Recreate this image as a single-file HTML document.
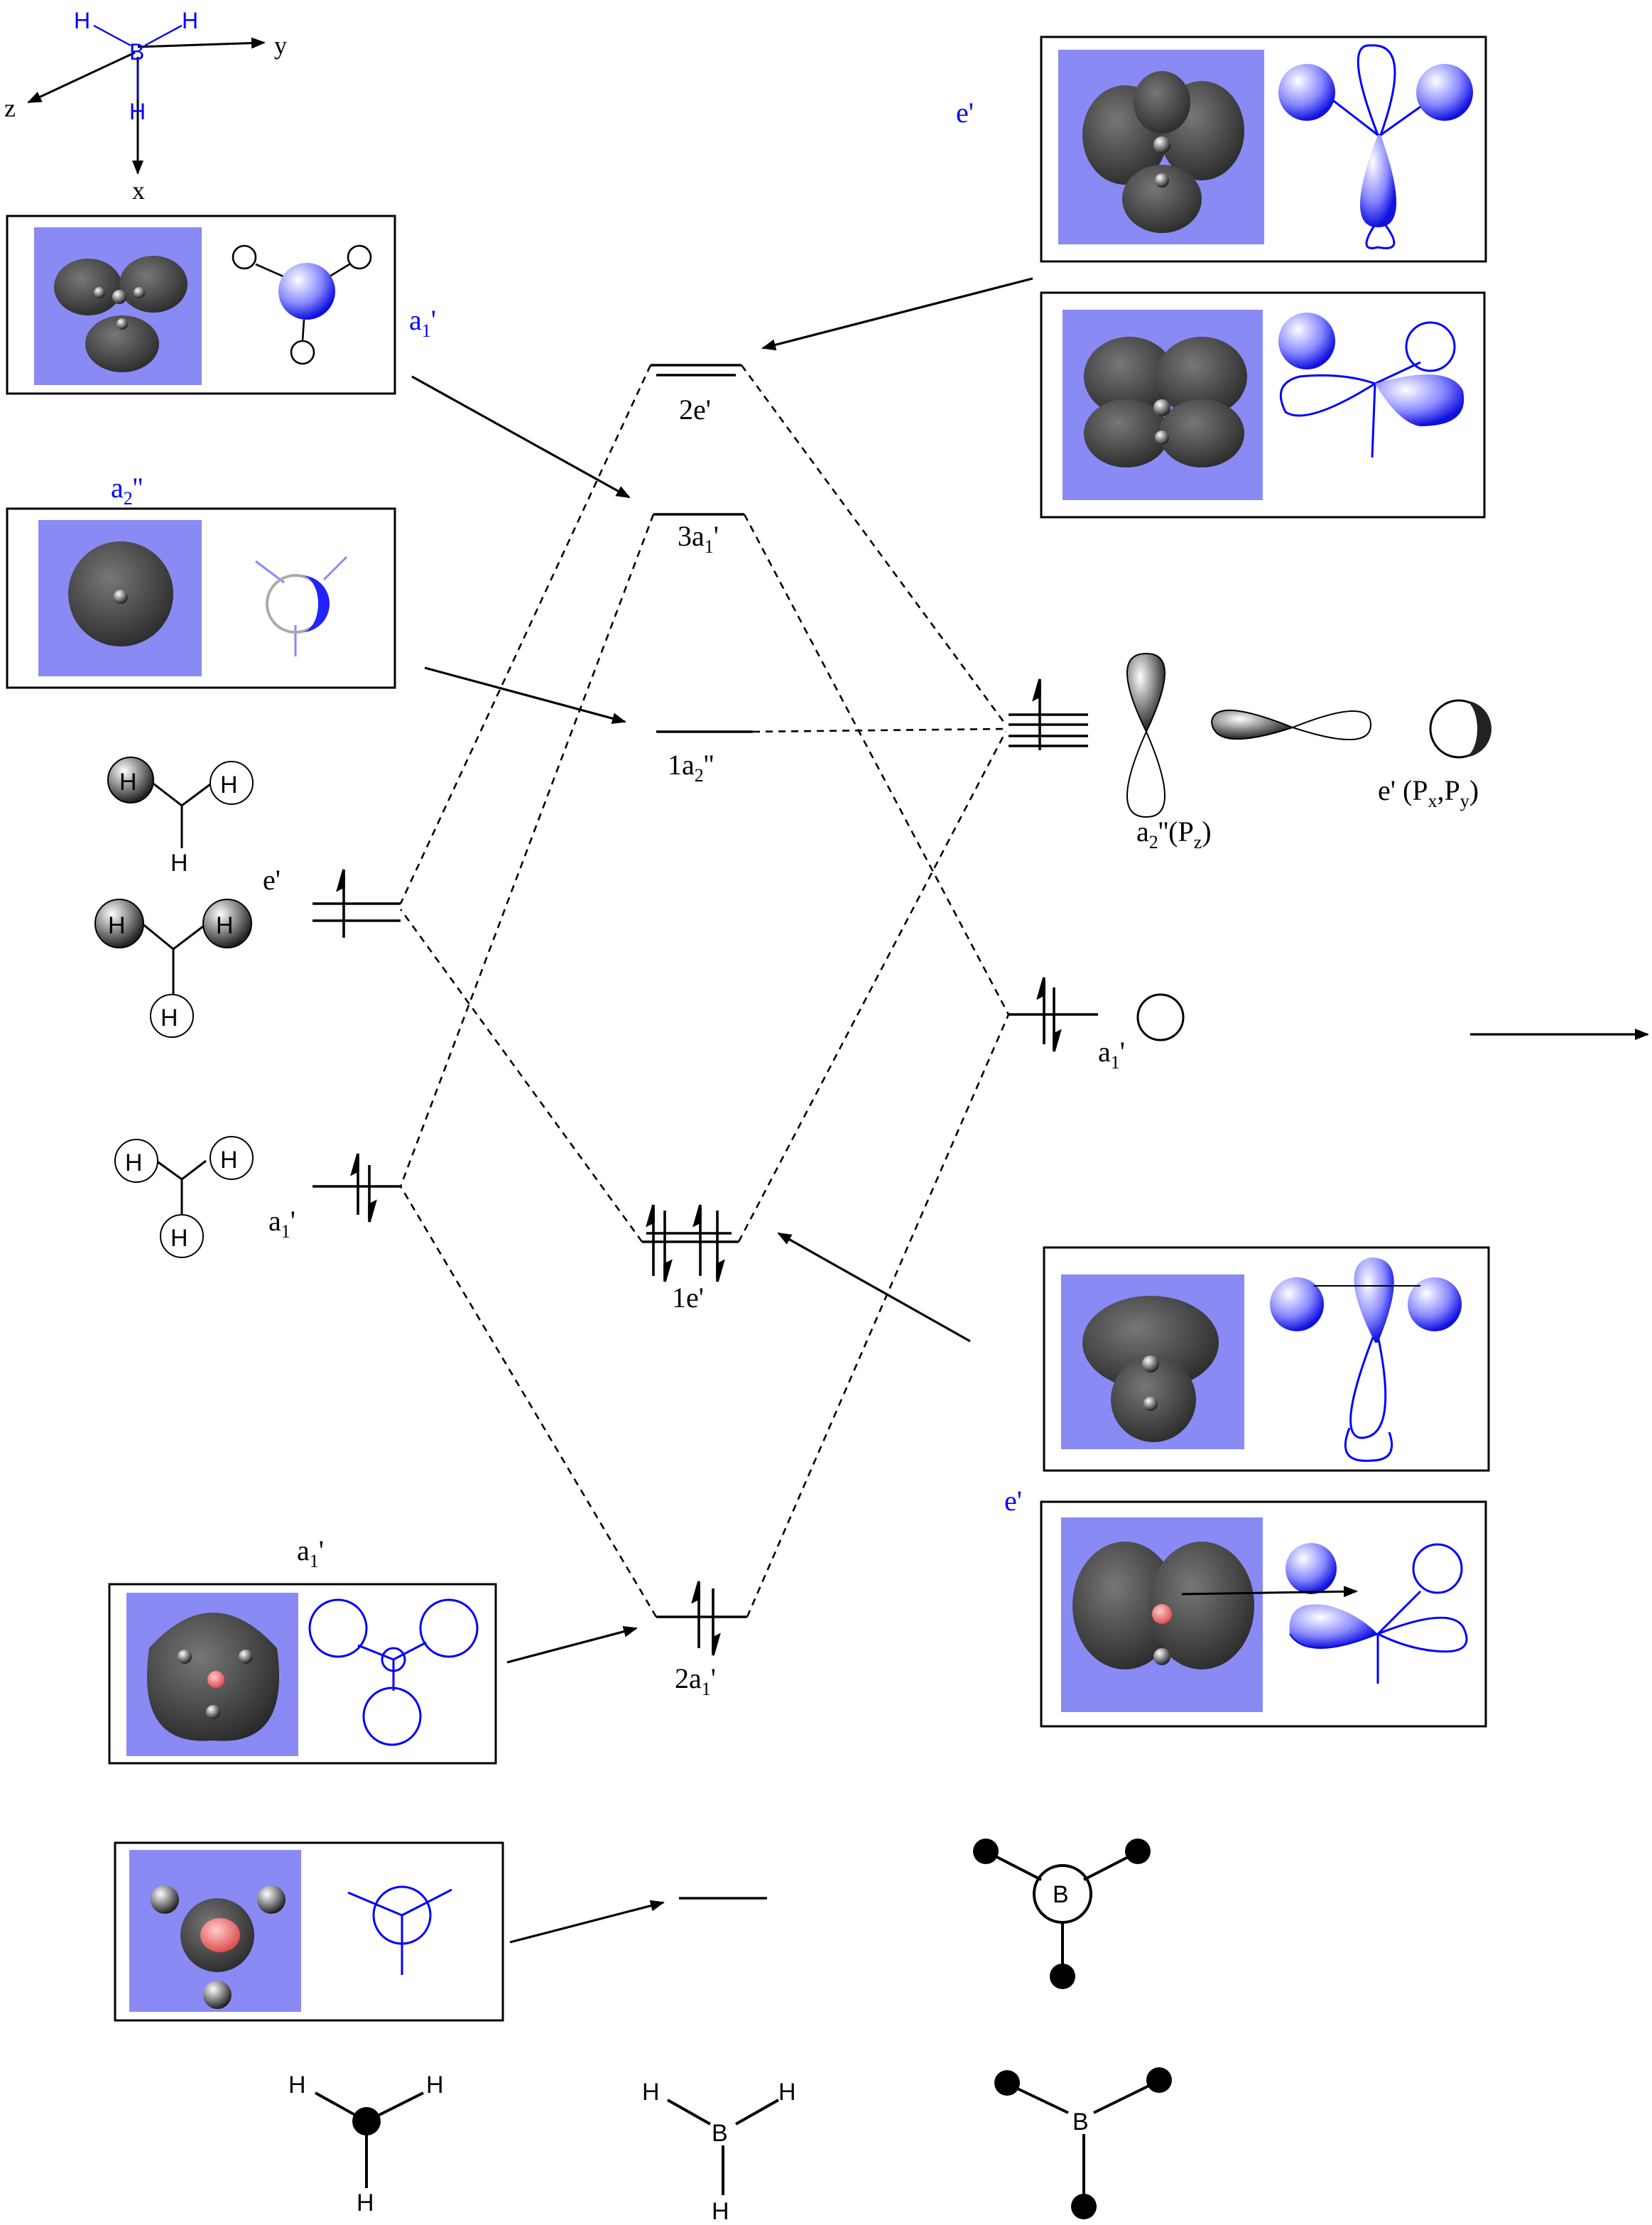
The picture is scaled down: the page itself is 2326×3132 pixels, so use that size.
<!DOCTYPE html>
<html><head><meta charset="utf-8"><style>html,body{margin:0;padding:0;background:#fff}svg{display:block}</style></head><body>
<svg xmlns="http://www.w3.org/2000/svg" width="2326" height="3132" viewBox="0 0 1163 1566" font-family="Liberation Serif, serif">
<defs>
<radialGradient id="bl" cx="0.35" cy="0.3" r="0.7"><stop offset="0" stop-color="#fff"/><stop offset="0.6" stop-color="#8888ff"/><stop offset="1" stop-color="#1010e0"/></radialGradient>
<radialGradient id="gr" cx="0.4" cy="0.35" r="0.7"><stop offset="0" stop-color="#777"/><stop offset="1" stop-color="#2a2a2a"/></radialGradient>
<radialGradient id="gw" cx="0.35" cy="0.3" r="0.7"><stop offset="0" stop-color="#fff"/><stop offset="1" stop-color="#222"/></radialGradient>
<radialGradient id="pk" cx="0.4" cy="0.35" r="0.7"><stop offset="0" stop-color="#fcc"/><stop offset="1" stop-color="#d44"/></radialGradient>
<marker id="ah" markerWidth="10" markerHeight="8" refX="9" refY="4" orient="auto" markerUnits="userSpaceOnUse"><path d="M0,0 L10,4 L0,8 z" fill="#000"/></marker>
</defs>
<g font-size="18">
<!-- axes -->
<g stroke="#000" stroke-width="1.5" fill="none">
<line x1="97" y1="33" x2="186" y2="30" marker-end="url(#ah)"/>
<line x1="95" y1="37" x2="20" y2="72" marker-end="url(#ah)"/>
<line x1="97" y1="40" x2="97" y2="122" marker-end="url(#ah)"/>
</g>
<g stroke="#00f" stroke-width="1.2"><line x1="66" y1="18" x2="92" y2="32"/><line x1="128" y1="18" x2="102" y2="32"/><line x1="97" y1="44" x2="97" y2="70"/></g>
<g fill="#00f" font-family="Liberation Sans, sans-serif" font-size="16"><text x="52" y="20">H</text><text x="128" y="20">H</text><text x="91" y="42">B</text><text x="91" y="84">H</text></g>
<text x="193" y="38">y</text><text x="3" y="82">z</text><text x="93" y="140">x</text>

<!-- boxes -->
<g fill="none" stroke="#000" stroke-width="1.5">
<rect x="5" y="152" width="273" height="125"/>
<rect x="5" y="358" width="273" height="126"/>
<rect x="733" y="26" width="313" height="158"/>
<rect x="733" y="206" width="312" height="158"/>
<rect x="735" y="878" width="313" height="157"/>
<rect x="733" y="1057" width="313" height="158"/>
<rect x="77" y="1115" width="272" height="126"/>
<rect x="81" y="1297" width="273" height="125"/>
</g>
<g fill="#8a8af5">
<rect x="24" y="160" width="118" height="111"/>
<rect x="27" y="366" width="115" height="110"/>
<rect x="745" y="35" width="145" height="137"/>
<rect x="748" y="218" width="141" height="134"/>
<rect x="747" y="897" width="129" height="123"/>
<rect x="747" y="1068" width="142" height="137"/>
<rect x="89" y="1121" width="121" height="115"/>
<rect x="91" y="1302" width="121" height="114"/>
</g>
<!-- gray blobs -->
<g fill="url(#gr)">
<ellipse cx="62" cy="202" rx="24" ry="20"/><ellipse cx="108" cy="200" rx="24" ry="20"/><ellipse cx="86" cy="242" rx="26" ry="20"/>
<circle cx="85" cy="418" r="37"/>
<ellipse cx="792" cy="95" rx="30" ry="35"/><ellipse cx="846" cy="92" rx="30" ry="35"/><ellipse cx="818" cy="140" rx="28" ry="24"/><ellipse cx="818" cy="72" rx="20" ry="22"/>
<ellipse cx="795" cy="265" rx="32" ry="28"/><ellipse cx="846" cy="265" rx="32" ry="28"/><ellipse cx="793" cy="305" rx="30" ry="24"/><ellipse cx="846" cy="305" rx="30" ry="24"/>
<ellipse cx="810" cy="945" rx="48" ry="33"/><ellipse cx="812" cy="985" rx="30" ry="30"/>
<ellipse cx="792" cy="1130" rx="37" ry="45"/><ellipse cx="846" cy="1130" rx="37" ry="45"/>
<path d="M105,1160 Q150,1110 195,1160 Q205,1230 150,1225 Q95,1230 105,1160z"/>
<circle cx="153" cy="1362" r="26"/>
</g>
<g fill="url(#gw)"><circle cx="84" cy="209" r="5"/><circle cx="70" cy="206" r="4"/><circle cx="98" cy="206" r="4"/><circle cx="86" cy="228" r="4"/><circle cx="85" cy="420" r="5"/><circle cx="818" cy="102" r="6"/><circle cx="818" cy="127" r="5"/><circle cx="818" cy="287" r="6"/><circle cx="818" cy="308" r="5"/><circle cx="810" cy="960" r="6"/><circle cx="810" cy="988" r="5"/><circle cx="818" cy="1166" r="6"/><circle cx="130" cy="1166" r="5"/><circle cx="173" cy="1166" r="5"/><circle cx="150" cy="1205" r="5"/>
<circle cx="116" cy="1337" r="10"/><circle cx="191" cy="1337" r="10"/><circle cx="153" cy="1404" r="10"/></g>
<g fill="url(#pk)"><circle cx="818" cy="1136" r="7"/><circle cx="152" cy="1182" r="6"/><ellipse cx="155" cy="1362" rx="14" ry="12"/></g>

<!-- blue orbitals -->
<g stroke="#000" fill="none" stroke-width="1.3"><line x1="180" y1="186" x2="205" y2="197"/><line x1="246" y1="186" x2="228" y2="197"/><line x1="214" y1="225" x2="213" y2="240"/><circle cx="172" cy="181" r="8"/><circle cx="253" cy="181" r="8"/><circle cx="213" cy="248" r="8"/></g>
<circle cx="216" cy="205" r="20" fill="url(#bl)"/>
<g stroke="#00f" fill="none" stroke-width="1.5">
<path d="M970,95 Q945,30 965,32 Q995,30 972,95z"/>
<path d="M970,95 L935,68 M972,95 L1010,68 M968,158 Q955,178 970,174 Q990,178 975,158"/>
<path d="M968,270 Q920,300 905,290 Q895,270 915,265 Q945,262 968,270z"/>
<line x1="968" y1="270" x2="966" y2="322"/><line x1="968" y1="270" x2="1000" y2="255"/><circle cx="1007" cy="244" r="17"/>
<path d="M967,940 Q940,1010 958,1012 Q985,1012 970,940z"/><path d="M950,1005 Q940,1030 965,1028 Q985,1028 978,1008"/>
<path d="M970,1150 Q1020,1130 1030,1145 Q1040,1165 1010,1162 Q990,1160 970,1150z"/><line x1="970" y1="1150" x2="970" y2="1185"/><line x1="970" y1="1150" x2="1000" y2="1120"/><circle cx="1012" cy="1104" r="17"/>
<circle cx="238" cy="1146" r="20"/><circle cx="316" cy="1146" r="20"/><circle cx="276" cy="1208" r="20"/><circle cx="277" cy="1168" r="8"/><line x1="277" y1="1168" x2="252" y2="1158"/><line x1="277" y1="1168" x2="300" y2="1156"/><line x1="277" y1="1168" x2="277" y2="1190"/>
<circle cx="283" cy="1348" r="20"/><line x1="283" y1="1348" x2="245" y2="1332"/><line x1="283" y1="1348" x2="318" y2="1330"/><line x1="283" y1="1348" x2="283" y2="1390"/>
<line x1="208" y1="440" x2="208" y2="462" stroke="#88f"/><line x1="180" y1="395" x2="200" y2="410" stroke="#88f"/><line x1="244" y1="392" x2="228" y2="408" stroke="#88f"/>
</g>
<g fill="url(#bl)">
<circle cx="920" cy="65" r="20"/><circle cx="1017" cy="65" r="20"/><path d="M970,95 Q945,160 970,160 Q995,160 972,95z"/>
<circle cx="920" cy="240" r="20"/><path d="M968,270 Q1020,255 1030,275 Q1035,300 1000,300 Q985,298 968,270z"/>
<circle cx="913" cy="918" r="19"/><circle cx="1010" cy="918" r="19"/><path d="M968,945 Q940,890 965,885 Q995,885 970,945z"/>
<circle cx="923" cy="1104" r="18"/><path d="M970,1150 Q920,1170 908,1150 Q905,1125 935,1130 Q955,1135 970,1150z"/>
</g>
<path d="M970,1150 Q920,1170 908,1150" stroke="#00f" fill="none"/>
<circle cx="208" cy="425" r="20" fill="none" stroke="#aaa" stroke-width="2"/><path d="M212,405 A20,20 0 0 1 212,445 A12,20 0 0 0 212,405z" fill="#22f"/>
<line x1="925" y1="905" x2="1000" y2="905" stroke="#000"/>
<line x1="832" y1="1122" x2="955" y2="1120" stroke="#000" stroke-width="1.5" marker-end="url(#ah)"/>

<!-- labels -->
<g fill="#00f" font-size="20"><text x="288" y="232">a<tspan font-size="13" dy="5">1</tspan><tspan dy="-5">'</tspan></text><text x="78" y="350">a<tspan font-size="13" dy="5">2</tspan><tspan dy="-5">''</tspan></text><text x="673" y="86">e'</text><text x="707" y="1063">e'</text></g>

<!-- levels -->
<g stroke="#000" stroke-width="1.8">
<line x1="458" y1="257" x2="522" y2="257"/><line x1="462" y1="264" x2="518" y2="264"/>
<line x1="460" y1="362" x2="524" y2="362"/>
<line x1="462" y1="515" x2="530" y2="515"/>
<line x1="452" y1="874" x2="520" y2="874"/><line x1="455" y1="868" x2="515" y2="868"/>
<line x1="462" y1="1138" x2="526" y2="1138"/>
<line x1="478" y1="1336" x2="540" y2="1336"/>
<line x1="220" y1="636" x2="282" y2="636"/><line x1="220" y1="648" x2="282" y2="648"/>
<line x1="220" y1="835" x2="282" y2="835"/>
<line x1="710" y1="503" x2="766" y2="503"/><line x1="710" y1="510" x2="766" y2="510"/><line x1="710" y1="518" x2="766" y2="518"/><line x1="710" y1="525" x2="766" y2="525"/>
<line x1="710" y1="714" x2="773" y2="714"/>
</g>
<!-- spins -->
<g stroke="#000" stroke-width="1.8" fill="#000">
<line x1="242" y1="615" x2="242" y2="660"/><path d="M242,612 l-4,14 l4,-2z"/>
<line x1="252" y1="815" x2="252" y2="855"/><path d="M252,812 l-4,14 l4,-2z"/><line x1="260" y1="820" x2="260" y2="858"/><path d="M260,860 l4,-14 l-4,2z"/>
<line x1="732" y1="480" x2="732" y2="528"/><path d="M732,478 l-4,14 l4,-2z"/>
<line x1="735" y1="690" x2="735" y2="735"/><path d="M735,688 l-4,14 l4,-2z"/><line x1="742" y1="695" x2="742" y2="738"/><path d="M742,740 l4,-14 l-4,2z"/>
<line x1="460" y1="850" x2="460" y2="898"/><path d="M460,848 l-4,14 l4,-2z"/><line x1="468" y1="852" x2="468" y2="900"/><path d="M468,902 l4,-14 l-4,2z"/>
<line x1="493" y1="850" x2="493" y2="898"/><path d="M493,848 l-4,14 l4,-2z"/><line x1="505" y1="852" x2="505" y2="900"/><path d="M505,902 l4,-14 l-4,2z"/>
<line x1="492" y1="1115" x2="492" y2="1160"/><path d="M492,1113 l-4,14 l4,-2z"/><line x1="502" y1="1118" x2="502" y2="1163"/><path d="M502,1165 l4,-14 l-4,2z"/>
</g>
<!-- dashed -->
<g stroke="#000" stroke-width="1.3" stroke-dasharray="5,4" fill="none">
<line x1="458" y1="257" x2="282" y2="636"/><line x1="522" y1="257" x2="708" y2="510"/>
<line x1="460" y1="362" x2="282" y2="835"/><line x1="524" y1="362" x2="710" y2="714"/>
<line x1="530" y1="515" x2="708" y2="513"/>
<line x1="452" y1="874" x2="282" y2="640"/><line x1="520" y1="874" x2="708" y2="515"/>
<line x1="462" y1="1138" x2="282" y2="835"/><line x1="526" y1="1138" x2="710" y2="714"/>
</g>
<!-- arrows -->
<g stroke="#000" stroke-width="1.6" marker-end="url(#ah)">
<line x1="290" y1="265" x2="443" y2="350"/><line x1="299" y1="470" x2="440" y2="508"/><line x1="727" y1="196" x2="537" y2="245"/><line x1="683" y1="944" x2="548" y2="868"/><line x1="357" y1="1170" x2="448" y2="1146"/><line x1="359" y1="1367" x2="467" y2="1339"/><line x1="1035" y1="728" x2="1160" y2="728"/>
</g>
<g font-size="20">
<text x="478" y="295">2e'</text>
<text x="477" y="384">3a<tspan font-size="13" dy="5">1</tspan><tspan dy="-5">'</tspan></text>
<text x="470" y="545">1a<tspan font-size="13" dy="5">2</tspan><tspan dy="-5">''</tspan></text>
<text x="473" y="920">1e'</text>
<text x="475" y="1188">2a<tspan font-size="13" dy="5">1</tspan><tspan dy="-5">'</tspan></text>
<text x="185" y="626">e'</text>
<text x="189" y="866">a<tspan font-size="13" dy="5">1</tspan><tspan dy="-5">'</tspan></text>
<text x="773" y="747">a<tspan font-size="13" dy="5">1</tspan><tspan dy="-5">'</tspan></text>
<text x="209" y="1098">a<tspan font-size="13" dy="5">1</tspan><tspan dy="-5">'</tspan></text>
<text x="800" y="592">a<tspan font-size="13" dy="5">2</tspan><tspan dy="-5">''(P</tspan><tspan font-size="13" dy="5">z</tspan><tspan dy="-5">)</tspan></text>
<text x="970" y="563">e' (P<tspan font-size="13" dy="5">x</tspan><tspan dy="-5">,P</tspan><tspan font-size="13" dy="5">y</tspan><tspan dy="-5">)</tspan></text>
</g>
<!-- p orbitals -->
<path d="M807,515 Q780,460 807,460 Q833,460 807,515z" fill="url(#gw)" stroke="#000"/>
<path d="M807,515 Q780,575 807,575 Q833,575 807,515z" fill="none" stroke="#000"/>
<path d="M910,512 Q855,490 853,508 Q855,530 910,512z" fill="url(#gw)" stroke="#000"/>
<path d="M910,512 Q965,490 965,510 Q965,530 910,512z" fill="none" stroke="#000"/>
<circle cx="1027" cy="513" r="20" fill="none" stroke="#000" stroke-width="1.5"/><path d="M1030,493 A20,20 0 0 1 1030,533 A10,20 0 0 0 1030,493z" fill="#222"/>
<circle cx="817" cy="716" r="16" fill="none" stroke="#000" stroke-width="1.5"/>
<!-- H fragments left -->
<g stroke="#000" stroke-width="1.5" fill="none">
<path d="M106,550 L128,567 L148,552 M128,567 L128,597"/>
<path d="M100,650 L122,668 L143,652 M122,668 L122,703"/>
<path d="M110,817 L128,830 L145,817 M128,830 L128,857"/>
</g>
<circle cx="92" cy="549" r="16" fill="url(#gw)" stroke="#000"/><circle cx="163" cy="551" r="15" fill="#fff" stroke="#000"/>
<circle cx="84" cy="650" r="17" fill="url(#gw)" stroke="#000"/><circle cx="160" cy="650" r="17" fill="url(#gw)" stroke="#000"/><circle cx="121" cy="715" r="15" fill="#fff" stroke="#000"/>
<circle cx="96" cy="817" r="15" fill="#fff" stroke="#000"/><circle cx="163" cy="815" r="15" fill="#fff" stroke="#000"/><circle cx="128" cy="870" r="15" fill="#fff" stroke="#000"/>
<g font-family="Liberation Sans, sans-serif" font-size="17"><text x="84" y="556">H</text><text x="155" y="558">H</text><text x="120" y="613">H</text><text x="76" y="657">H</text><text x="152" y="657">H</text><text x="113" y="722">H</text><text x="88" y="824">H</text><text x="155" y="822">H</text><text x="120" y="877">H</text></g>
<!-- bottom molecules -->
<g stroke="#000" stroke-width="2" fill="none">
<path d="M222,1473 L258,1493 L298,1473 M258,1493 L258,1540"/>
<path d="M470,1478 L500,1495 M518,1495 L548,1478 M509,1510 L509,1545"/>
<path d="M696,1304 L733,1323 M763,1323 L800,1304 M748,1352 L748,1390"/><circle cx="748" cy="1333" r="20"/>
<path d="M710,1467 L752,1487 M770,1487 L815,1465 M763,1502 L763,1552"/>
</g>
<g fill="#000"><circle cx="258" cy="1493" r="10"/><circle cx="694" cy="1303" r="9"/><circle cx="801" cy="1303" r="9"/><circle cx="748" cy="1391" r="9"/><circle cx="709" cy="1466" r="9"/><circle cx="816" cy="1464" r="9"/><circle cx="763" cy="1553" r="9"/></g>
<g font-family="Liberation Sans, sans-serif" font-size="17"><text x="203" y="1473">H</text><text x="300" y="1473">H</text><text x="251" y="1556">H</text><text x="452" y="1478">H</text><text x="548" y="1478">H</text><text x="501" y="1507">B</text><text x="501" y="1562">H</text><text x="741" y="1339">B</text><text x="755" y="1499">B</text></g>
</g>
</svg>
</body></html>
